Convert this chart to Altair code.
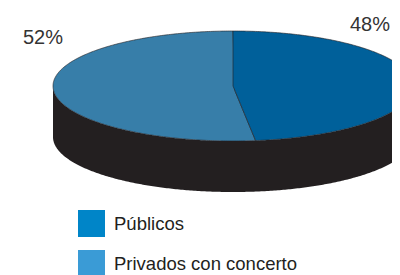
import numpy as np
import pandas as pd
import altair as alt

# ---- data ----
categories = ["Públicos", "Privados con concerto"]
values = [48, 52]
pct_labels = ["48%", "52%"]

# ---- styles / layout ----
pie_colors = ["#00609a", "#377ea9"]
legend_colors = ["#0085c8", "#3a9bd6"]
side_color = "#231f20"
text_color = "#231f20"
FONT = "Liberation Sans"
DEPTH = 51 / 55.0           # pie thickness in y-units (1 unit = vertical radius)
# (x, y, align) of each percentage label in pie units
label_pos = {"48%": (0.872, 1.0, "right"), "52%": (-1.167, 0.764, "left")}
W, H = 384, 267

# ---- geometry derived from the values ----
frac = values[0] / sum(values)
t1 = 2 * np.pi * frac
x1, y1 = np.sin(t1), np.cos(t1)
grid = np.sin(np.linspace(-np.pi / 2, np.pi / 2, 301))
grid = np.unique(np.concatenate([grid, [0.0, x1]]))


def upper(x):
    return np.sqrt(max(0.0, 1 - x * x))


rows = []
for x in grid:
    rows.append(dict(piece="side", cat="side", x=x, top=-upper(x), bottom=-upper(x) - DEPTH, fill=side_color))
for x in grid:
    if x >= 0:
        bot = y1 * x / x1 if x <= x1 else -upper(x)
        rows.append(dict(piece="a", cat=categories[0], x=x, top=upper(x), bottom=bot, fill=pie_colors[0]))
    if x <= x1:
        top = upper(x) if x <= 0 else y1 * x / x1
        rows.append(dict(piece="b", cat=categories[1], x=x, top=top, bottom=-upper(x), fill=pie_colors[1]))
geo = pd.DataFrame(rows)

xs = alt.Scale(domain=[(8 - 233) / 180.0, (8 + W - 233) / 180.0], nice=False, zero=False)
ys = alt.Scale(domain=[(86 - 8 - H) / 55.0, (86 - 8) / 55.0], nice=False, zero=False)

side = alt.Chart(geo[geo.piece == "side"]).mark_area(color=side_color, clip=True).encode(
    x=alt.X("x:Q", scale=xs, axis=None),
    y=alt.Y("top:Q", scale=ys, axis=None),
    y2="bottom:Q",
)

tops = alt.Chart(geo[geo.piece != "side"]).mark_area(stroke="#231f20", strokeWidth=0.6, clip=True).encode(
    x=alt.X("x:Q", scale=xs, axis=None),
    y=alt.Y("top:Q", scale=ys, axis=None),
    y2="bottom:Q",
    fill=alt.Fill("fill:N", scale=None),
    detail="piece:N",
)

label_layers = []
for l in pct_labels:
    lx, ly, la = label_pos[l]
    d = pd.DataFrame({"label": [l], "x": [lx], "y": [ly]})
    label_layers.append(
        alt.Chart(d).mark_text(
            font=FONT, fontSize=20, color="#333333", align=la, baseline="alphabetic"
        ).encode(
            x=alt.X("x:Q", scale=xs, axis=None),
            y=alt.Y("y:Q", scale=ys, axis=None),
            text="label:N",
        )
    )

leg = pd.DataFrame({"cat": categories, "x": [0.0, 0.0], "y": [0.0, 0.0]})
legend_layer = alt.Chart(leg).mark_square(opacity=0, filled=True).encode(
    x=alt.X("x:Q", scale=xs, axis=None),
    y=alt.Y("y:Q", scale=ys, axis=None),
    color=alt.Color(
        "cat:N",
        scale=alt.Scale(domain=categories, range=legend_colors),
        sort=categories,
        legend=alt.Legend(
            orient="none", legendX=70, legendY=202, title=None,
            symbolType="square", symbolSize=729, symbolStrokeWidth=0, symbolOpacity=1,
            labelFontSize=18.5, labelFont=FONT, labelColor=text_color,
            labelOffset=9, rowPadding=13, padding=0, labelLimit=300,
        ),
    ),
)

chart = alt.layer(side, tops, *label_layers, legend_layer).properties(
    width=W, height=H, autosize="none", padding=0
).configure_view(strokeWidth=0)

chart.save("out.html", embed_options={"renderer": "svg", "actions": False})
